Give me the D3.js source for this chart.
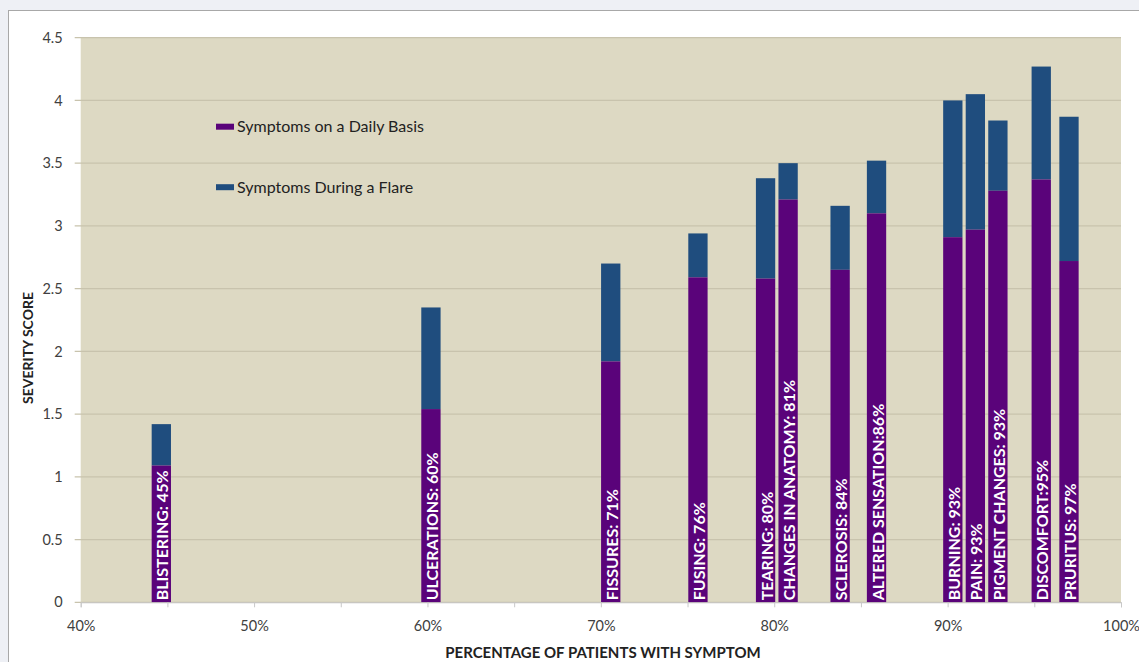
<!DOCTYPE html>
<html>
<head>
<meta charset="utf-8">
<script src="https://cdn.jsdelivr.net/npm/d3@7"></script>
<style>
  body { margin: 0; background: #eef0f5; font-family: Lato, "Open Sans", sans-serif; }
  #chart { position: absolute; left: 0; top: 0; }
</style>
</head>
<body>
<div id="chart"></div>
<script>
// 1: DATA
const symptoms = ["BLISTERING: 45%", "ULCERATIONS: 60%", "FISSURES: 71%", "FUSING: 76%", "TEARING: 80%",
    "CHANGES IN ANATOMY: 81%", "SCLEROSIS: 84%", "ALTERED SENSATION:86%", "BURNING: 93%", "PAIN: 93%",
    "PIGMENT CHANGES: 93%", "DISCOMFORT:95%", "PRURITUS: 97%"];
// x position of each bar (percentage of patients)
const percents = [44.65, 60.2, 70.57, 75.6, 79.5, 80.8, 83.8, 85.9, 90.3, 91.6, 92.9, 95.4, 97.0];
// severity on a daily basis (purple, bottom)
const dailyScores = [1.09, 1.54, 1.92, 2.59, 2.58, 3.21, 2.65, 3.10, 2.91, 2.97, 3.28, 3.37, 2.72];
// severity during a flare (top of the blue segment)
const flareScores = [1.42, 2.35, 2.70, 2.94, 3.38, 3.50, 3.16, 3.52, 4.00, 4.05, 3.84, 4.27, 3.87];
const yTicks = [0, 0.5, 1, 1.5, 2, 2.5, 3, 3.5, 4, 4.5];
const xTicks = [40, 45, 50, 55, 60, 65, 70, 75, 80, 85, 90, 95, 100];
const seriesNames = ["Symptoms on a Daily Basis", "Symptoms During a Flare"];

const purple = "#5a037a";
const blue = "#1f4d7e";

// 2: LAYOUT
const W = 1139, H = 662;
const margin = { top: 37.7, left: 80.7 };
const width = 1121 - margin.left;
const height = 602.3 - margin.top;

const svg = d3.select("#chart").append("svg")
    .attr("width", W)
    .attr("height", H);

// white chart frame
svg.append("rect")
    .attr("x", 8.5).attr("y", 10.5)
    .attr("width", W + 20).attr("height", H + 20)
    .attr("fill", "#ffffff")
    .attr("stroke", "#a8a8a8");

const g = svg.append("g")
    .attr("transform", `translate(${margin.left},${margin.top})`);

// 3: SCALES
const x = d3.scaleLinear().domain([40, 100]).range([0, width]);
const y = d3.scaleLinear().domain([0, 4.5]).range([height, 0]);

// plot background
g.append("rect")
    .attr("width", width).attr("height", height)
    .attr("fill", "#ddd9c3");

// gridlines
g.selectAll(".grid")
    .data(yTicks)
    .enter().append("line")
    .attr("x1", -6).attr("x2", width)
    .attr("y1", d => y(d)).attr("y2", d => y(d))
    .attr("stroke", "#c8c3ad")
    .attr("stroke-width", 1.3);

// 4: BARS
const barW = 19.3;
const bars = g.selectAll(".bar")
    .data(symptoms.map((s, i) => ({ name: s, p: percents[i], daily: dailyScores[i], flare: flareScores[i] })))
    .enter().append("g");

bars.append("rect")
    .attr("x", d => x(d.p) - barW / 2)
    .attr("y", d => y(d.flare))
    .attr("width", barW)
    .attr("height", d => y(d.daily) - y(d.flare))
    .attr("fill", blue);

bars.append("rect")
    .attr("x", d => x(d.p) - barW / 2)
    .attr("y", d => y(d.daily))
    .attr("width", barW)
    .attr("height", d => y(0) - y(d.daily))
    .attr("fill", purple);

bars.append("text")
    .attr("transform", d => `translate(${x(d.p) + 7},${y(0) - 2}) rotate(-90)`)
    .attr("fill", "#ffffff")
    .attr("font-size", "16px")
    .attr("font-weight", "bold")
    .text(d => d.name);

// 5: AXES
const xAxis = g.append("g")
    .attr("transform", `translate(0,${height})`)
    .call(d3.axisBottom(x).tickValues(xTicks).tickSize(5).tickPadding(13)
        .tickFormat(d => d % 10 === 0 ? d + "%" : ""));
xAxis.select(".domain").attr("stroke", "#c8c8c8");
xAxis.selectAll(".tick line").attr("stroke", "#c8c8c8");
xAxis.selectAll("text").attr("fill", "#404040").attr("font-size", "14.5px")
    .attr("font-family", "Lato, sans-serif");

const yAxis = g.append("g")
    .call(d3.axisLeft(y).tickValues(yTicks).tickSize(0).tickPadding(18)
        .tickFormat(d => d));
yAxis.select(".domain").remove();
yAxis.selectAll("text").attr("fill", "#404040").attr("font-size", "14.5px")
    .attr("font-family", "Lato, sans-serif");

// 6: LABELS
svg.append("text")
    .attr("transform", `translate(33,348) rotate(-90)`)
    .attr("text-anchor", "middle")
    .attr("font-size", "14px")
    .attr("font-weight", "bold")
    .attr("fill", "#222")
    .text("SEVERITY SCORE");

svg.append("text")
    .attr("x", 603)
    .attr("y", 658)
    .attr("text-anchor", "middle")
    .attr("font-size", "15px")
    .attr("font-weight", "bold")
    .attr("fill", "#222")
    .text("PERCENTAGE OF PATIENTS WITH SYMPTOM");

// legend
const legend = svg.selectAll(".legend")
    .data(seriesNames)
    .enter().append("g")
    .attr("transform", (d, i) => `translate(216,${126.7 + i * 60.5})`);

legend.append("rect")
    .attr("x", 0).attr("y", -3)
    .attr("width", 18).attr("height", 6)
    .attr("fill", (d, i) => i === 0 ? purple : blue);

legend.append("text")
    .attr("x", 21).attr("y", 5.5)
    .attr("font-size", "16px")
    .attr("fill", "#222")
    .text(d => d);
</script>
</body>
</html>
